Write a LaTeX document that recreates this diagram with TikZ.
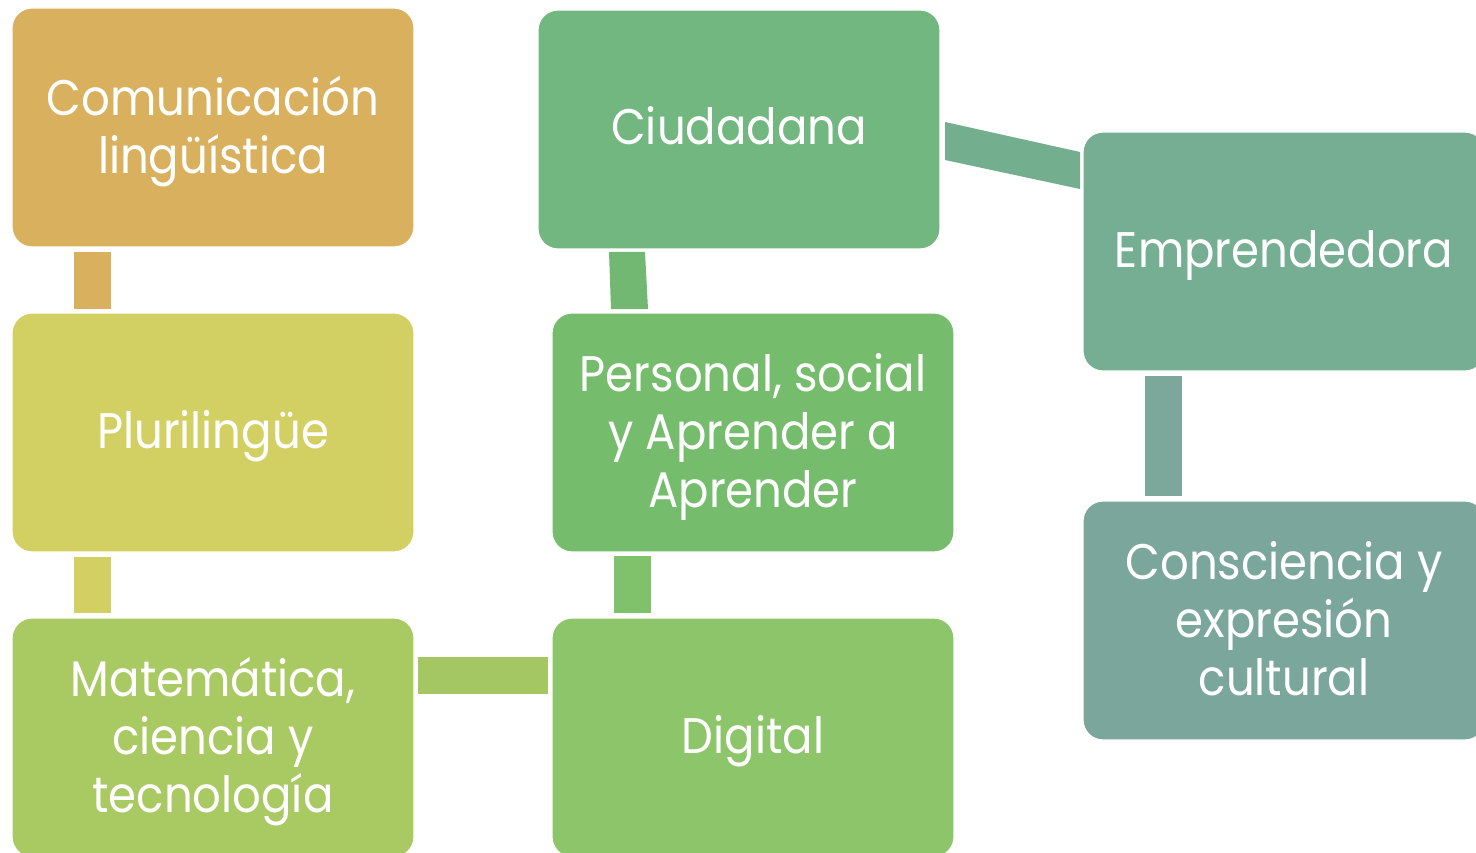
\documentclass[tikz,border=0pt]{standalone}
\usepackage{fontspec}
\setmainfont{Poppins}[FakeStretch=0.9]
\usetikzlibrary{calc}
\definecolor{cA}{HTML}{D9B15E}
\definecolor{cB}{HTML}{D2D062}
\definecolor{cC}{HTML}{A9C963}
\definecolor{cD}{HTML}{8DC56A}
\definecolor{cE}{HTML}{75BD6C}
\definecolor{cF}{HTML}{72B680}
\definecolor{cG}{HTML}{75AE92}
\definecolor{cH}{HTML}{7BA69B}
\definecolor{kC}{HTML}{A4C763}
\definecolor{kD}{HTML}{80C26C}
\definecolor{kE}{HTML}{72B872}
\definecolor{kF}{HTML}{73AF8E}
\definecolor{kG}{HTML}{7CA89B}
\tikzset{
  box/.style={rectangle, rounded corners=20pt, minimum width=402pt, minimum height=239pt,
    draw=white, line width=1.2pt, outer sep=0pt},
  txt/.style={text=white, align=center, yshift=-4pt,
    font=\fontsize{50}{58}\selectfont},
}
\begin{document}
\begin{tikzpicture}[x=1pt,y=-1pt]
\useasboundingbox (0,0) rectangle (1476,853);
\node[box, fill=cA, label={[txt]center:{Comunicación\\lingüística}}] (b1) at (213,127.5) {};
\node[box, fill=cB, label={[txt]center:{Plurilingüe}}] (b2) at (213,432.5) {};
\node[box, fill=cC, label={[txt]center:{Matemática,\\ciencia y\\tecnología}}] (b3) at (213,737.5) {};
\node[box, fill=cD, label={[txt]center:{Digital}}] (b4) at (753,737.5) {};
\node[box, fill=cE, label={[txt]center:{Personal, social\\y Aprender a\\Aprender}}] (b5) at (753,432.5) {};
\node[box, fill=cF, label={[txt, yshift=8pt]center:{Ciudadana}}] (b6) at (739,129.5) {};
\node[box, fill=cG, label={[txt]center:{Emprendedora}}] (b7) at (1284,251.5) {};
\node[box, fill=cH, label={[txt, yshift=6pt]center:{Consciencia y\\expresión\\cultural}}] (b8) at (1284,620.5) {};
% connectors
\fill[cA] ($(b1.south west)+(62,5)$) rectangle ($(b2.north west)+(99,-4)$);
\fill[cB] ($(b2.south west)+(62,5)$) rectangle ($(b3.north west)+(99,-5)$);
\fill[kC] ($(b3.north east)+(4,39)$) rectangle ($(b4.north west)+(-4,76)$);
\fill[kD] ($(b5.south west)+(62,4)$) rectangle ($(b4.north west)+(99,-5)$);
\fill[kE] ($(b6.south west)+(71,3)$) -- ($(b6.south west)+(107,3)$) -- ($(b5.north west)+(96,-4)$) -- ($(b5.north west)+(59,-4)$) -- cycle;
\fill[kF] ($(b6.north east)+(5,112)$) -- ($(b7.north west)+(-3,20)$) -- ($(b7.north west)+(-3,57)$) -- ($(b6.north east)+(5,150)$) -- cycle;
\fill[kG] ($(b7.south west)+(62,5)$) rectangle ($(b8.north west)+(99,-5)$);
\end{tikzpicture}
\end{document}
